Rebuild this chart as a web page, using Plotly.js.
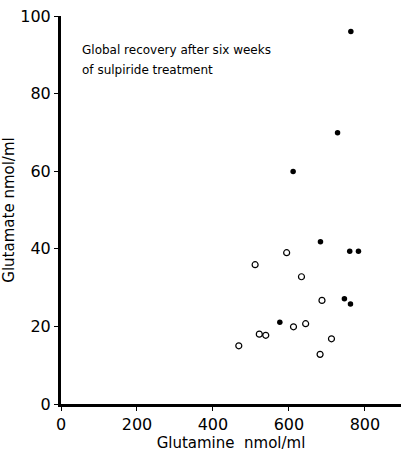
<!DOCTYPE html>
<html><head><meta charset="utf-8">
<script src="https://cdn.plot.ly/plotly-3.0.1.min.js"></script>
<style>html,body{margin:0;padding:0;background:#fff;}#chart{width:401px;height:460px;}</style>
</head><body><div id="chart"></div>
<script>
// Filled circles
const filledGlutamine = [763, 728, 611, 683, 760, 783, 746, 762, 576];
const filledGlutamate = [96, 69.9, 59.9, 41.8, 39.4, 39.4, 27.1, 25.8, 21.1];
// Open circles
const openGlutamine = [594, 511, 633, 687, 644, 612, 522, 539, 712, 468, 682];
const openGlutamate = [39, 35.9, 32.8, 26.7, 20.7, 19.9, 18, 17.7, 16.8, 15, 12.8];
const xTicks = [0, 200, 400, 600, 800];
const yTicks = [0, 20, 40, 60, 80, 100];
const noteLines = ['Global recovery after six weeks', 'of sulpiride treatment'];

const font = "'DejaVu Sans', sans-serif";
const traces = [
  {x: filledGlutamine, y: filledGlutamate, type: 'scatter', mode: 'markers', cliponaxis: false,
   marker: {symbol: 'circle', size: 5.5, color: '#000'}},
  {x: openGlutamine, y: openGlutamate, type: 'scatter', mode: 'markers', cliponaxis: false,
   marker: {symbol: 'circle-open', size: 6, color: '#000', line: {width: 1.2, color: '#000'}}}
];
const layout = {
  width: 401, height: 460, showlegend: false,
  paper_bgcolor: '#fff', plot_bgcolor: '#fff',
  margin: {l: 61, r: 0, t: 16, b: 56},
  font: {family: font, color: '#000'},
  xaxis: {range: [0, 895], tickvals: xTicks, ticktext: xTicks.map(String), showgrid: false, zeroline: false,
    showline: true, linewidth: 3, linecolor: '#000', ticks: 'outside', ticklen: 4, tickwidth: 1, tickcolor: '#000',
    tickfont: {size: 16, family: font}, title: {text: 'Glutamine  nmol/ml', font: {size: 15, family: font}, standoff: 4}},
  yaxis: {range: [0, 100], tickvals: yTicks, ticktext: yTicks.map(String), showgrid: false, zeroline: false,
    showline: true, linewidth: 3, linecolor: '#000', ticks: 'outside', ticklen: 4, tickwidth: 1, tickcolor: '#000',
    tickfont: {size: 16, family: font}, title: {text: 'Glutamate nmol/ml', font: {size: 15, family: font}, standoff: 4}},
  annotations: noteLines.map((t, i) => ({
    xref: 'paper', yref: 'paper', x: 0.055, y: 0.912 - i * 0.051, xanchor: 'left', yanchor: 'middle',
    showarrow: false, align: 'left', text: t, font: {size: 12, family: font}
  }))
};
Plotly.newPlot('chart', traces, layout, {displayModeBar: false, staticPlot: true});
</script></body></html>
